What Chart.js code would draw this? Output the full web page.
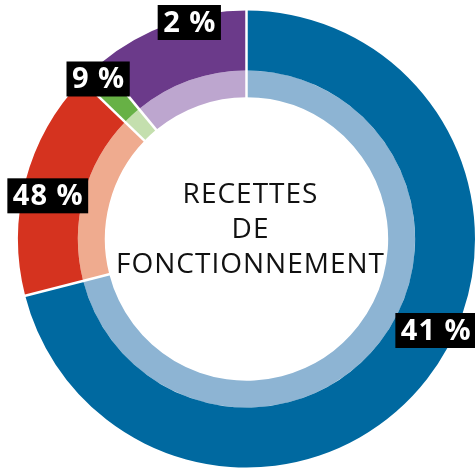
<!DOCTYPE html>
<html>
<head>
<meta charset="utf-8">
<script src="https://cdn.jsdelivr.net/npm/chart.js@4.4.1/dist/chart.umd.min.js"></script>
<style>
  html, body { margin: 0; padding: 0; background: #fff; overflow: hidden; }
  #wrap { position: relative; width: 475px; height: 468px; }
</style>
</head>
<body>
<div id="wrap"><canvas id="chart"></canvas></div>
<script>
// data
const categories = ["Part 1", "Part 2", "Part 3", "Part 4"];
const shares = [71, 16.2, 1.8, 11];
const shareLabels = ["41 %", "48 %", "9 %", "2 %"];
const centerTitle = ["RECETTES", "DE", "FONCTIONNEMENT"];

const darkColors = ["#0069a0", "#d5331f", "#67b145", "#6b3a8a"];
const lightColors = ["#8db4d3", "#efab8f", "#c4dfae", "#bda6cf"];

// where each box sits: angle nudge (deg) and fraction of outer radius
const labelNudge = [-12, -2.5, 0, 5];
const labelRadius = [0.92, 0.89, 0.955, 0.98];

const separators = {
  id: "separators",
  afterDatasetsDraw(chart) {
    const ctx = chart.ctx;
    const outer = chart.getDatasetMeta(0).data;
    const inner = chart.getDatasetMeta(1).data;
    ctx.save();
    ctx.strokeStyle = "#fff";
    ctx.lineWidth = 2.5;
    outer.forEach((arc, i) => {
      const a = arc.startAngle;
      const r0 = inner[i].innerRadius - 1;
      const r1 = arc.outerRadius + 2;
      ctx.beginPath();
      ctx.moveTo(arc.x + Math.cos(a) * r0, arc.y + Math.sin(a) * r0);
      ctx.lineTo(arc.x + Math.cos(a) * r1, arc.y + Math.sin(a) * r1);
      ctx.stroke();
    });
    ctx.restore();
  }
};

const boxLabels = {
  id: "boxLabels",
  afterDraw(chart) {
    const ctx = chart.ctx;
    const arcs = chart.getDatasetMeta(0).data;
    ctx.save();
    ctx.font = "bold 29px 'Open Sans'";
    ctx.letterSpacing = "1px";
    ctx.textAlign = "center";
    ctx.textBaseline = "middle";
    arcs.forEach((arc, i) => {
      const a = (arc.startAngle + arc.endAngle) / 2 + labelNudge[i] * Math.PI / 180;
      const r = arc.outerRadius * labelRadius[i];
      const x = arc.x + Math.cos(a) * r;
      const y = arc.y + Math.sin(a) * r;
      const w = ctx.measureText(shareLabels[i]).width + 10;
      const h = 35;
      ctx.fillStyle = "#000";
      ctx.fillRect(x - w / 2, y - h / 2, w, h);
      ctx.fillStyle = "#fff";
      ctx.fillText(shareLabels[i], x + 0.5, y + 1);
    });
    ctx.restore();
  }
};

const centerText = {
  id: "centerText",
  afterDraw(chart) {
    const ctx = chart.ctx;
    const arc = chart.getDatasetMeta(0).data[0];
    ctx.save();
    ctx.font = "28px 'Open Sans'";
    ctx.letterSpacing = "1px";
    ctx.fillStyle = "#111";
    ctx.textAlign = "center";
    ctx.textBaseline = "middle";
    centerTitle.forEach((line, i) => {
      ctx.fillText(line, arc.x + 4, arc.y - 44 + i * 35);
    });
    ctx.restore();
  }
};

new Chart(document.getElementById("chart"), {
  type: "doughnut",
  data: {
    labels: categories,
    datasets: [
      { data: shares, backgroundColor: darkColors, borderWidth: 0, weight: 60 },
      { data: shares, backgroundColor: lightColors, borderWidth: 0, weight: 27 }
    ]
  },
  options: {
    responsive: true,
    maintainAspectRatio: false,
    animation: false,
    cutout: "62%",
    layout: { padding: { left: 18, top: 10, right: 0, bottom: 0 } },
    plugins: {
      legend: { display: false },
      tooltip: { enabled: false }
    }
  },
  plugins: [separators, boxLabels, centerText]
});
</script>
</body>
</html>
